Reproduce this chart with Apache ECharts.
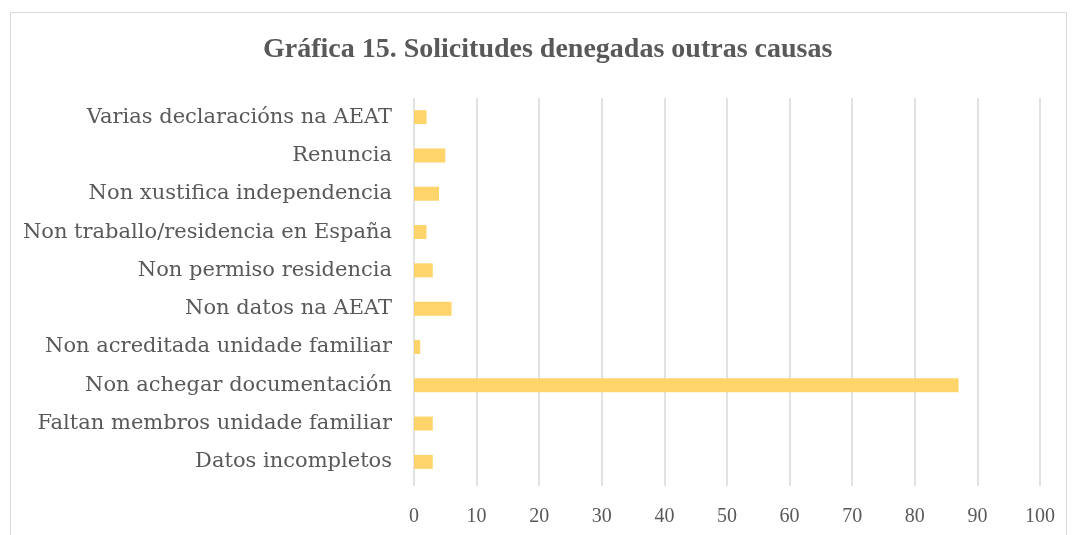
<!DOCTYPE html>
<html>
<head>
<meta charset="utf-8">
<script src="https://cdn.jsdelivr.net/npm/echarts@6/dist/echarts.min.js"></script>
<style>
  html, body { margin: 0; padding: 0; background: #fff; }
  #main { width: 1076px; height: 535px; }
</style>
</head>
<body>
<div id="main"></div>
<script>
// categories, bottom to top as on the chart
const categories = [
  "Datos incompletos",
  "Faltan membros unidade familiar",
  "Non achegar documentación",
  "Non acreditada unidade familiar",
  "Non datos na AEAT",
  "Non permiso residencia",
  "Non traballo/residencia en España",
  "Non xustifica independencia",
  "Renuncia",
  "Varias declaracións na AEAT"
];
const values = [3, 3, 87, 1, 6, 3, 2, 4, 5, 2];
const xTicks = [0, 10, 20, 30, 40, 50, 60, 70, 80, 90, 100];

const font = "'Liberation Serif', 'DejaVu Serif', serif";
const wideFont = "'DejaVu Serif', 'Liberation Serif', serif";
const textColor = "#595959";
const gridColor = "#d9d9d9";

let myChart = echarts.init(document.getElementById("main"));
myChart.setOption({
  animation: false,
  title: {
    text: "Gráfica 15. Solicitudes denegadas outras causas",
    left: 258,
    top: 31,
    textStyle: {
      fontFamily: font,
      fontSize: 28,
      fontWeight: "bold",
      color: textColor
    }
  },
  graphic: [
    {
      // chart frame
      type: "rect",
      shape: { x: 10.5, y: 12.5, width: 1056, height: 540 },
      style: { fill: "none", stroke: "#d9d9d9", lineWidth: 1 },
      silent: true
    }
  ],
  grid: {
    left: 414,
    right: 36,
    top: 98,
    bottom: 54,
    containLabel: false
  },
  xAxis: {
    type: "value",
    min: xTicks[0],
    max: xTicks[xTicks.length - 1],
    interval: 10,
    axisLine: { show: false },
    axisTick: { show: true, length: 5, lineStyle: { color: gridColor, width: 1.5 } },
    splitLine: { show: true, lineStyle: { color: gridColor, width: 1.5 } },
    axisLabel: {
      margin: 26,
      fontFamily: font,
      fontSize: 20,
      color: textColor
    }
  },
  yAxis: {
    type: "category",
    data: categories,
    axisLine: { show: false },
    axisTick: { show: false },
    axisLabel: {
      margin: 22,
      fontFamily: wideFont,
      fontSize: 21,
      color: textColor
    }
  },
  series: [
    {
      type: "bar",
      data: values,
      barWidth: 14,
      itemStyle: { color: "#FFD56B" }
    }
  ]
});
</script>
</body>
</html>
